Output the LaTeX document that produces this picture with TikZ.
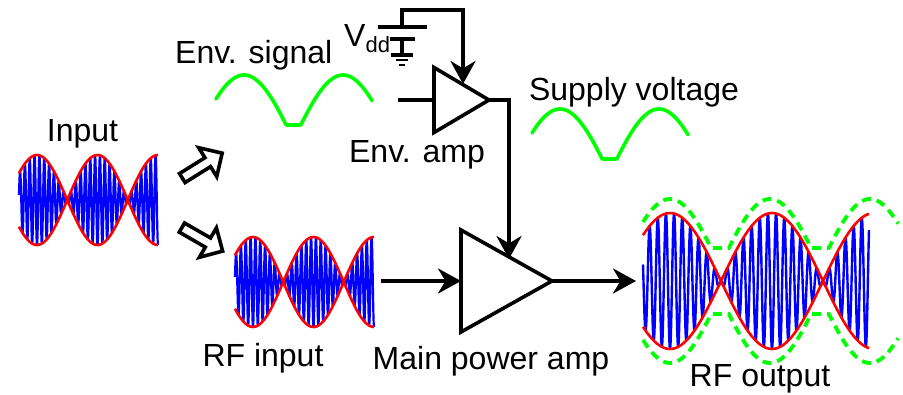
\documentclass[tikz,border=0pt]{standalone}
\usepackage{fontspec}
\setmainfont{Liberation Sans}
\usetikzlibrary{positioning, arrows.meta, shapes.geometric, shapes.arrows}

\newcommand{\rfwave}[7]{
  \draw[carrier_line, line width=#7] plot[domain=#1:#2, samples=800] (\x, {#5+#6*cos((\x-#3)/#4*180)*cos((\x-#3)/#4*4500)});
  \draw[envelope_line] plot[domain=#1:#2, samples=80] (\x, {#5+#6*cos((\x-#3)/#4*180)});
  \draw[envelope_line] plot[domain=#1:#2, samples=80] (\x, {#5-#6*cos((\x-#3)/#4*180)});
}
\newcommand{\envwave}[2]{
  \draw[env_line] plot[domain=0:156, samples=157] ({#1+\x}, {#2+min(50, 65-65*abs(cos((\x-28)/99*180)))});
}

\begin{document}
\begin{tikzpicture}[
      x=1pt, y=-1pt,
      label_text/.style={font=\fontsize{32}{34}\selectfont, inner sep=0pt},
      wave_box/.style={inner sep=0pt, outer sep=0pt},
      amp_tri/.style={isosceles triangle, isosceles triangle stretches, draw, line width=3.6pt, inner sep=0pt, outer sep=0pt, anchor=apex, line join=miter},
      edge_path/.style={-{Stealth[length=23pt, width=25pt]}, line width=3.6pt},
      wire_path/.style={line width=3.6pt},
      split_arrow/.style={single arrow, draw, line width=3.6pt, inner sep=0pt, minimum height=47pt, minimum width=34pt, single arrow head extend=4pt, single arrow head indent=0pt},
      carrier_line/.style={blue, line join=round},
      envelope_line/.style={red, line width=2.6pt},
      env_line/.style={green, line width=3.6pt, line cap=round},
      dash_line/.style={green, line width=3.8pt, dash pattern=on 9pt off 6pt}
    ]
      \useasboundingbox (0,0) rectangle (903,394);

      \node[wave_box, minimum width=139pt, minimum height=90pt] (input_wave) at (88.5,200) {};
      \node[wave_box, minimum width=156pt, minimum height=50pt] (env_wave) at (294,100) {};
      \node[wave_box, minimum width=158pt, minimum height=50pt] (supply_wave) at (611,133) {};
      \node[wave_box, minimum width=154pt, minimum height=92pt] (rf_wave) at (304,281) {};
      \node[wave_box, minimum width=268pt, minimum height=164pt] (out_wave) at (770,281) {};

      \rfwave{19}{158}{37}{60.5}{200}{45}{2.2pt}
      \rfwave{235}{374}{253}{60.5}{282}{45}{2.2pt}
      \envwave{216}{75}
      \envwave{532}{109}

      \draw[dash_line] plot[domain=643:898, samples=200] (\x, {281-max(33,14+68*abs(cos((\x-670)/100*180)))});
      \draw[dash_line] plot[domain=643:898, samples=200] (\x, {281+max(33,14+68*abs(cos((\x-670)/100*180)))});
      \rfwave{643}{869}{670}{102}{281}{68}{2.4pt}

      \node[label_text, above=7pt of input_wave, xshift=-6pt] (input_lbl) {Input};
      \node[label_text, above=5pt of env_wave.north west, anchor=south west, xshift=-41pt] (env_lbl) {Env. signal};
      \node[label_text, above=1pt of supply_wave, xshift=23pt] (supply_lbl) {Supply voltage};
      \node[label_text, below=16pt of rf_wave, xshift=-41pt] (rf_lbl) {RF input};
      \node[label_text, below=1pt of out_wave, xshift=-10pt] (out_lbl) {RF output};

      \node[amp_tri, minimum width=65pt, minimum height=55pt] (env_amp) at (489,100) {};
      \node[amp_tri, minimum width=102pt, minimum height=91pt] (main_amp) at (552,281) {};
      \node[label_text, below=8pt of env_amp.right corner, xshift=-17pt] (env_amp_lbl) {Env. amp};
      \node[label_text, below=14pt of main_amp.right corner, xshift=30pt] (main_lbl) {Main power amp};

      \node[split_arrow, rotate=32] (split_up) at (200,167) {};
      \node[split_arrow, rotate=-30] (split_down) at (200,238) {};

      \coordinate (env_in) at (398,100);
      \coordinate (env_top) at (463,84);
      \coordinate (main_top) at (509,259);
      \coordinate (vdd_plate) at (402,27);
      \coordinate (vdd_corner) at (463,10);
      \coordinate (vdd_mid) at (402,39);
      \coordinate (vdd_gnd) at (402,55);

      \draw[wire_path] (env_in) -- (env_amp.lower side);
      \draw[edge_path] (vdd_plate) |- (vdd_corner) -- (env_top);
      \draw[edge_path] (env_amp.apex) -| (main_top);
      \draw[edge_path] (rf_wave.east) -- (main_amp.lower side);
      \draw[edge_path] (main_amp.apex) -- (out_wave.west);

      \draw[wire_path] ([xshift=-24pt]vdd_plate) -- ([xshift=25pt]vdd_plate);
      \draw[wire_path] ([xshift=-12pt]vdd_mid) -- ([xshift=13pt]vdd_mid);
      \draw[wire_path] (vdd_mid) -- (vdd_gnd);
      \draw[wire_path] ([xshift=-11pt]vdd_gnd) -- ([xshift=11pt]vdd_gnd);
      \draw[line width=2.8pt] (396,60) -- (408,60);
      \draw[line width=2.8pt] (399,65) -- (405,65);

      \node[label_text, anchor=base west] (vdd_lbl) at (344,46) {V\raisebox{-6pt}{\fontsize{22}{22}\selectfont dd}};
    \end{tikzpicture}
\end{document}
